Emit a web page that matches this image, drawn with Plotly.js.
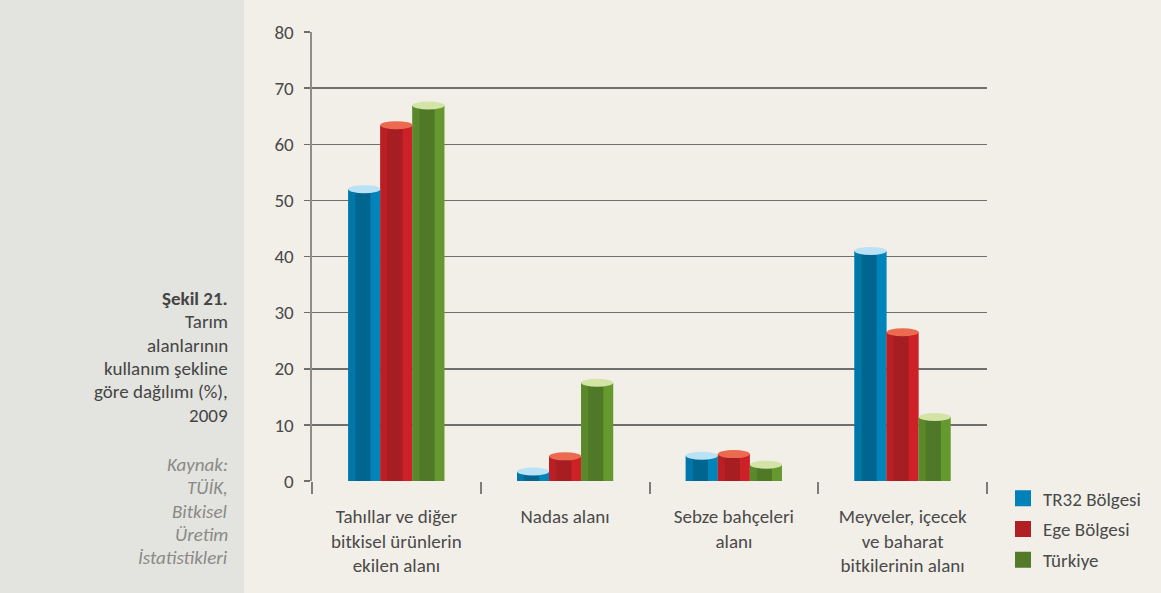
<!DOCTYPE html>
<html>
<head>
<meta charset="utf-8">
<script src="https://cdn.plot.ly/plotly-3.0.1.min.js"></script>
<style>
html,body{margin:0;padding:0;}
body{width:1161px;height:593px;background:linear-gradient(to right,#e3e3df 0px,#e3e3df 244px,#f2efe8 244px,#f2efe8 100%);}
#chart{width:1161px;height:593px;}
</style>
</head>
<body>
<div id="chart"></div>
<script>
const categories = ["Tahıllar ve diğer<br>bitkisel ürünlerin<br>ekilen alanı", "Nadas alanı", "Sebze bahçeleri<br>alanı", "Meyveler, içecek<br>ve baharat<br>bitkilerinin alanı"];
const seriesNames = ["TR32 Bölgesi", "Ege Bölgesi", "Türkiye"];
const tr32 = [52, 1.7, 4.5, 41];
const ege = [63.4, 4.4, 4.8, 26.5];
const turkiye = [66.9, 17.5, 2.9, 11.4];
const yTicks = [0, 10, 20, 30, 40, 50, 60, 70, 80];
const captionLines = ["<b>Şekil 21.</b>", "Tarım", "alanlarının", "kullanım şekline", "göre dağılımı (%),", "2009"];
const sourceLines = ["Kaynak:", "TÜİK,", "Bitkisel", "Üretim", "İstatistikleri"];

const seriesValues = [tr32, ege, turkiye];
const palettes = [
  {light:"#0084b9", mid:"#0077a8", dark:"#006690", top:"#b9e2f7", legend:"#0081b7"},
  {light:"#cd2027", mid:"#b91f25", dark:"#a61e22", top:"#eb6a50", legend:"#b02024"},
  {light:"#65992f", mid:"#5a892b", dark:"#4f7827", top:"#d4e4a7", legend:"#527a28"}
];
const barW = 0.19;
const idx = categories.map((c,i)=>i);
const traces = [];
const shapes = [];
seriesValues.forEach((vals, s) => {
  const off = (s - 1) * barW;
  const p = palettes[s];
  const xs = idx.map(i => i + off);
  traces.push({type:"bar", x: xs, y: vals, width: barW, name: seriesNames[s],
    legendgroup: "g"+s, marker:{color:p.light, line:{width:0}}, showlegend:false, hoverinfo:"skip"});
  traces.push({type:"bar", x: idx.map(i => i + off - barW*0.155), y: vals, width: barW*0.69,
    legendgroup: "g"+s, marker:{color:p.mid, line:{width:0}}, showlegend:false, hoverinfo:"skip"});
  traces.push({type:"bar", x: idx.map(i => i + off - barW*0.045), y: vals, width: barW*0.47,
    legendgroup: "g"+s, marker:{color:p.dark, line:{width:0}}, showlegend:false, hoverinfo:"skip"});
  traces.push({type:"scatter", mode:"markers", x:[null], y:[null], name: seriesNames[s], legendgroup:"g"+s,
    marker:{color:p.legend, symbol:"square", size:17, line:{width:0}}, showlegend:true});
  vals.forEach((v, i) => {
    shapes.push({type:"circle", xref:"x", yref:"y", ysizemode:"pixel", yanchor:v,
      x0: xs[i] - barW/2, x1: xs[i] + barW/2, y0:-4, y1:4,
      fillcolor:p.top, line:{width:0}, layer:"above"});
  });
});
traces.push({type:"scatter", x:[-0.5, 3.5], y:[0,0], xaxis:"x2", mode:"none", showlegend:false, hoverinfo:"skip"});

const fam = "Carlito, Lato, 'Open Sans', sans-serif";
const txtFont = {family:fam, size:19, color:"#4a4a4a"};
const plotH = 449, plotBottom = 481.5;
const pyToPaper = py => (plotBottom - py) / plotH;
const pxToPaper = px => (px - 312) / 675;
const annotations = [];
captionLines.forEach((t, k) => annotations.push({xref:"paper", yref:"paper", x:pxToPaper(230), y:pyToPaper(299 + k*23.3),
  xanchor:"right", yanchor:"middle", align:"right", showarrow:false, text:t, font:{...txtFont, color:"#454545"}}));
sourceLines.forEach((t, k) => annotations.push({xref:"paper", yref:"paper", x:pxToPaper(230), y:pyToPaper(465 + k*23.3),
  xanchor:"right", yanchor:"middle", align:"right", showarrow:false, text:"<i>"+t+"</i>", font:{...txtFont, color:"#8a8a87"}}));

const layout = {
  width:1161, height:593,
  margin:{l:312, r:174, t:32, b:111.5, pad:0, autoexpand:false},
  paper_bgcolor:"rgba(0,0,0,0)", plot_bgcolor:"rgba(0,0,0,0)",
  barmode:"overlay",
  font: txtFont,
  showlegend:true,
  legend:{x:pxToPaper(1003), xanchor:"left", y:pyToPaper(480), yanchor:"top", font:{...txtFont, size:19},
    bgcolor:"rgba(0,0,0,0)", tracegroupgap:3, itemclick:false, itemwidth:30},
  xaxis:{range:[-0.5,3.5], tickmode:"array", tickvals:idx, ticktext:categories,
    ticks:"", showgrid:false, zeroline:false, showline:false, ticklabelstandoff:22,
    tickfont:{...txtFont}, fixedrange:true},
  xaxis2:{range:[-0.5,3.5], overlaying:"x", side:"bottom", tickmode:"array",
    tickvals:[-0.5,0.5,1.5,2.5,3.5], ticks:"outside", ticklen:12, tickwidth:2, tickcolor:"#7c7c78",
    showticklabels:false, showgrid:false, zeroline:false, showline:false, matches:"x"},
  yaxis:{range:[0,80], tickmode:"array", tickvals:yTicks, ticks:"outside", ticklen:6,
    tickwidth:1.5, tickcolor:"#6f6f6c", gridcolor:"#6f6f6c", gridwidth:1.5,
    showline:true, linecolor:"#8e8e89", linewidth:2.5, zeroline:false,
    tickfont:{...txtFont}, ticklabelstandoff:6, fixedrange:true},
  shapes: shapes,
  annotations: annotations
};
Plotly.newPlot("chart", traces, layout, {displayModeBar:false, staticPlot:true});
</script>
</body>
</html>
